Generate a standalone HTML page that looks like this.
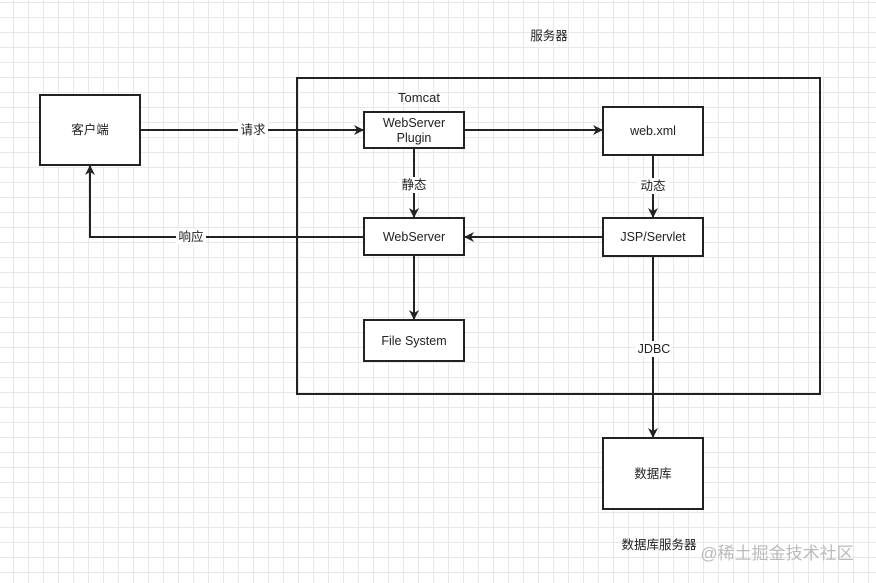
<!DOCTYPE html>
<html><head><meta charset="utf-8"><style>
html,body{margin:0;padding:0;background:#fff}
body{width:876px;height:583px;overflow:hidden;position:relative;
background-image:linear-gradient(#e8e8e8 1px,transparent 1px),linear-gradient(90deg,#e8e8e8 1px,transparent 1px);
background-size:15px 15px,15px 15px;background-position:13px 2px,13px 2px}
</style></head><body>
<svg width="876" height="583" style="position:absolute;left:0;top:0" font-family="'Liberation Sans','Noto Sans CJK SC',sans-serif" font-size="12.5" fill="#222">
<defs><marker id="a" markerWidth="10" markerHeight="10" refX="9" refY="5" orient="auto" markerUnits="userSpaceOnUse"><path d="M0,0 L10,5 L0,10 L3,5 z" fill="#222"/></marker></defs>
<g fill="#fff" stroke="#222" stroke-width="2">
<rect x="297" y="78" width="523" height="316" fill="none"/>
<rect x="40" y="95" width="100" height="70"/>
<rect x="364" y="112" width="100" height="36"/>
<rect x="603" y="107" width="100" height="48"/>
<rect x="364" y="218" width="100" height="37"/>
<rect x="603" y="218" width="100" height="38"/>
<rect x="364" y="320" width="100" height="41"/>
<rect x="603" y="438" width="100" height="71"/>
</g>
<g stroke="#222" stroke-width="2" fill="none" marker-end="url(#a)">
<line x1="140" y1="130" x2="363" y2="130"/>
<polyline points="364,237 90,237 90,166"/>
<line x1="464" y1="130" x2="602" y2="130"/>
<line x1="653" y1="155" x2="653" y2="217"/>
<line x1="414" y1="148" x2="414" y2="217"/>
<line x1="603" y1="237" x2="465" y2="237"/>
<line x1="414" y1="255" x2="414" y2="319"/>
<line x1="653" y1="256" x2="653" y2="437"/>
</g>
<g fill="#fff"><rect x="238" y="122" width="30" height="16"/><rect x="176" y="229" width="30" height="16"/>
<rect x="398" y="177" width="32" height="16"/><rect x="637" y="178" width="32" height="16"/><rect x="636" y="341" width="36" height="16"/></g>
<g text-anchor="middle">
<text x="90" y="134">客户端</text>
<text x="253" y="134">请求</text>
<text x="191" y="241">响应</text>
<text x="414" y="189">静态</text>
<text x="653" y="190">动态</text>
<text x="654" y="353">JDBC</text>
<text x="414" y="127">WebServer</text>
<text x="414" y="142">Plugin</text>
<text x="653" y="135">web.xml</text>
<text x="414" y="241">WebServer</text>
<text x="653" y="241">JSP/Servlet</text>
<text x="414" y="345">File System</text>
<text x="653" y="478">数据库</text>
<text x="549" y="40">服务器</text>
<text x="419" y="102" font-size="13">Tomcat</text>
<text x="659" y="549">数据库服务器</text>
<text x="777" y="559" font-size="17" fill="#bbb">@稀土掘金技术社区</text>
</g>
</svg>
</body></html>
